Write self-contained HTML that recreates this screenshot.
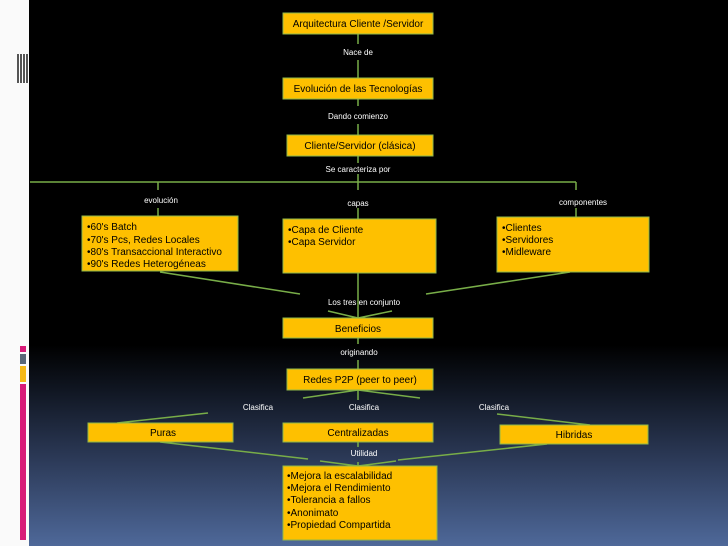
<!DOCTYPE html>
<html><head><meta charset="utf-8"><style>
html,body{margin:0;padding:0;}
body{width:728px;height:546px;position:relative;overflow:hidden;background:linear-gradient(to bottom,#000 0px,#000 345px,#101622 390px,#2c3a58 460px,#4e6899 546px);font-family:"Liberation Sans",sans-serif;}
.strip{position:absolute;left:0;top:0;width:29px;height:546px;background:#fafafa;}
</style></head><body>
<div class="strip"></div>
<div style="position:absolute;left:17px;top:54px;width:12px;height:29px;background:repeating-linear-gradient(to right,#555 0 2px,#fff 2px 3px);"></div>
<div style="position:absolute;left:20px;top:346px;width:6px;height:6px;background:#d81b78"></div>
<div style="position:absolute;left:20px;top:354px;width:6px;height:10px;background:#5a6777"></div>
<div style="position:absolute;left:20px;top:366px;width:6px;height:16px;background:#f6b917"></div>
<div style="position:absolute;left:20px;top:384px;width:6px;height:156px;background:#d81b78"></div>
<svg width="728" height="546" style="position:absolute;left:0;top:0" font-family="Liberation Sans, sans-serif">
<g stroke="#78ad48" stroke-width="1.5" fill="none">
<line x1="358" y1="34" x2="358" y2="44"/><line x1="358" y1="60" x2="358" y2="78"/>
<line x1="358" y1="99" x2="358" y2="106"/><line x1="358" y1="124" x2="358" y2="135"/>
<line x1="358" y1="156" x2="358" y2="163"/>
<line x1="30" y1="182" x2="576" y2="182"/>
<line x1="158" y1="182" x2="158" y2="190"/><line x1="358" y1="174" x2="358" y2="190"/><line x1="576" y1="182" x2="576" y2="190"/>
<line x1="158" y1="208" x2="158" y2="216"/><line x1="358" y1="208" x2="358" y2="219"/><line x1="576" y1="208" x2="576" y2="217"/>
<line x1="160" y1="272" x2="300" y2="294"/><line x1="358" y1="273" x2="358" y2="318"/><line x1="570" y1="272" x2="426" y2="294"/>
<line x1="328" y1="311" x2="358" y2="318"/><line x1="392" y1="311" x2="358" y2="318"/>
<line x1="358" y1="338" x2="358" y2="344"/><line x1="358" y1="360" x2="358" y2="369"/>
<line x1="358" y1="390" x2="358" y2="400"/>
<line x1="358" y1="390" x2="303" y2="398"/><line x1="358" y1="390" x2="420" y2="398"/>
<line x1="117" y1="423" x2="208" y2="413"/><line x1="590" y1="425" x2="497" y2="414"/>
<line x1="358" y1="442" x2="358" y2="447"/><line x1="358" y1="462" x2="358" y2="466"/>
<line x1="160" y1="442" x2="308" y2="459"/><line x1="547" y1="444" x2="398" y2="460"/>
<line x1="320" y1="461" x2="358" y2="466"/><line x1="396" y1="461" x2="358" y2="466"/>
</g>
<g fill="#fec000" stroke="#8fb84a" stroke-width="1">
<rect x="283" y="13" width="150" height="21"/>
<rect x="283" y="78" width="150" height="21"/>
<rect x="287" y="135" width="146" height="21"/>
<rect x="82" y="216" width="156" height="55"/>
<rect x="283" y="219" width="153" height="54"/>
<rect x="497" y="217" width="152" height="55"/>
<rect x="283" y="318" width="150" height="20"/>
<rect x="287" y="369" width="146" height="21"/>
<rect x="88" y="423" width="145" height="19"/>
<rect x="283" y="423" width="150" height="19"/>
<rect x="500" y="425" width="148" height="19"/>
<rect x="283" y="466" width="154" height="74"/>
</g>
<g font-size="10" fill="#000">
<text x="358" y="27" text-anchor="middle">Arquitectura Cliente /Servidor</text>
<text x="358" y="92" text-anchor="middle">Evolución de las Tecnologías</text>
<text x="360" y="149" text-anchor="middle">Cliente/Servidor (clásica)</text>
<text x="87" y="230">•60's Batch</text><text x="87" y="243">•70's Pcs, Redes Locales</text><text x="87" y="255">•80's Transaccional Interactivo</text><text x="87" y="267">•90's Redes Heterogéneas</text>
<text x="288" y="233">•Capa de Cliente</text><text x="288" y="245">•Capa Servidor</text>
<text x="502" y="231">•Clientes</text><text x="502" y="243">•Servidores</text><text x="502" y="255">•Midleware</text>
<text x="358" y="332" text-anchor="middle">Beneficios</text>
<text x="360" y="383" text-anchor="middle">Redes P2P (peer to peer)</text>
<text x="163" y="436" text-anchor="middle">Puras</text>
<text x="358" y="436" text-anchor="middle">Centralizadas</text>
<text x="574" y="438" text-anchor="middle">Hibridas</text>
<text x="287" y="479">•Mejora la escalabilidad</text><text x="287" y="491">•Mejora el Rendimiento</text><text x="287" y="503">•Tolerancia a fallos</text><text x="287" y="516">•Anonimato</text><text x="287" y="528">•Propiedad Compartida</text>
</g>
<g font-size="8" fill="#fff" text-anchor="middle">
<text x="358" y="55">Nace de</text>
<text x="358" y="119">Dando comienzo</text>
<text x="358" y="172">Se caracteriza por</text>
<text x="161" y="203">evolución</text>
<text x="358" y="206">capas</text>
<text x="583" y="205">componentes</text>
<text x="364" y="305">Los tres en conjunto</text>
<text x="359" y="355">originando</text>
<text x="258" y="410">Clasifica</text>
<text x="364" y="410">Clasifica</text>
<text x="494" y="410">Clasifica</text>
<text x="364" y="456">Utilidad</text>
</g>
</svg>
</body></html>
